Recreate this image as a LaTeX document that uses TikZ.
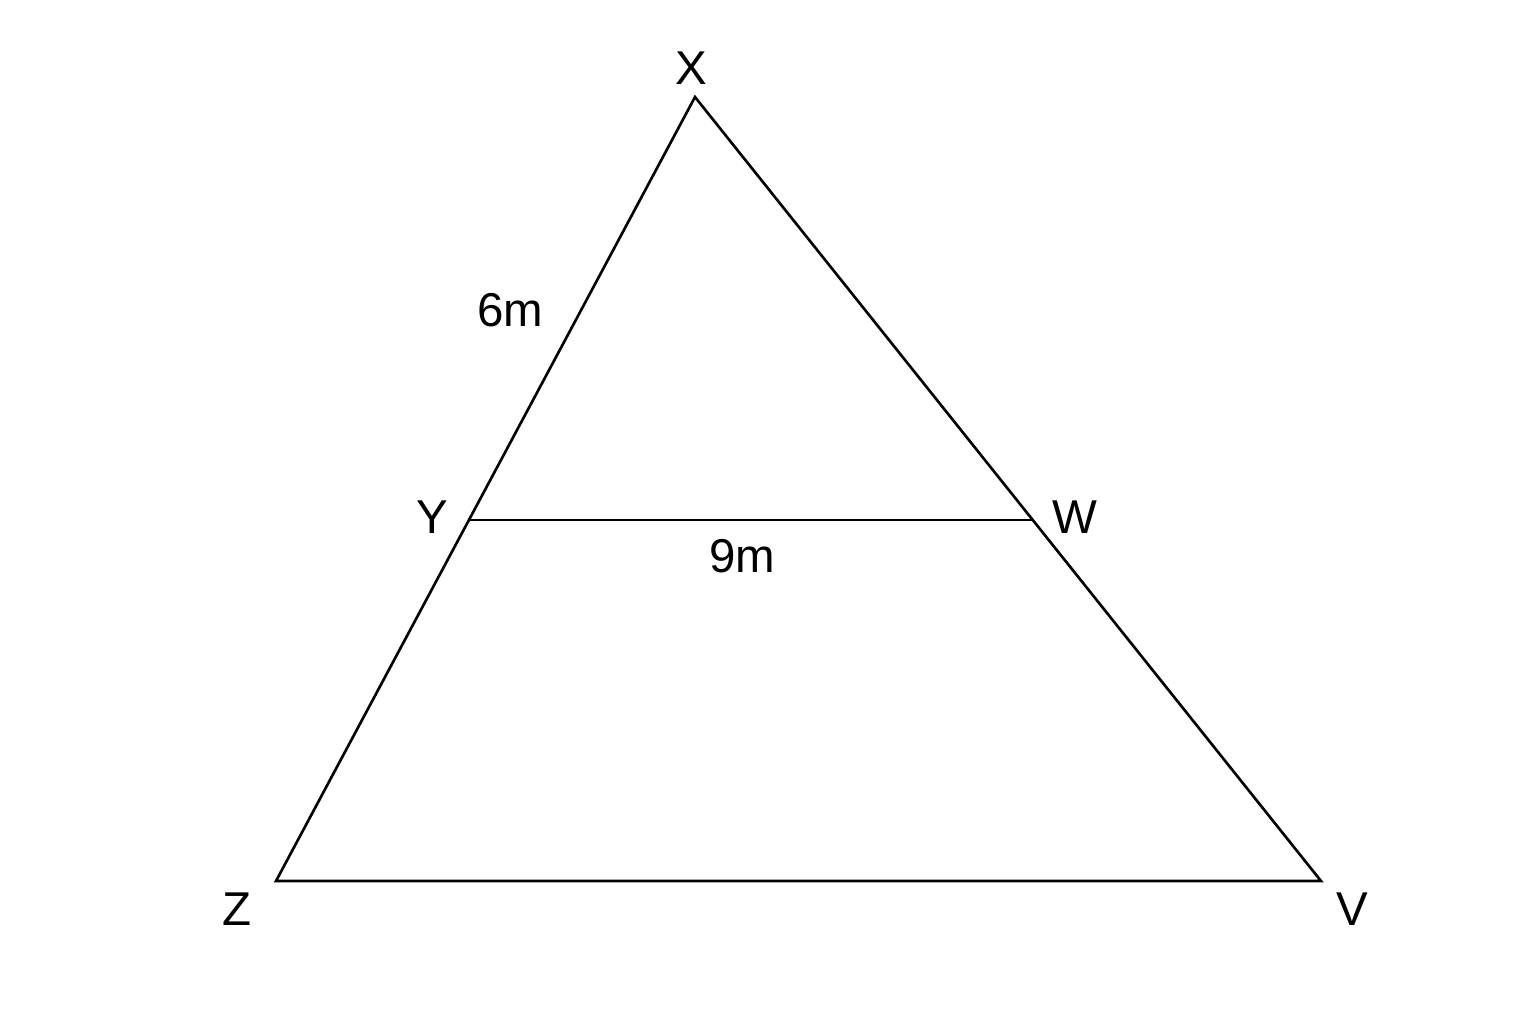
\documentclass[tikz,border=0pt]{standalone}
\usepackage{fontspec}
\setmainfont{Liberation Sans}
\begin{document}
\begin{tikzpicture}[x=0.01cm,y=-0.01cm,
  edge/.style={draw=black,line width=0.75pt,line join=miter},
  lbl/.style={font=\fontsize{13.5}{16}\selectfont,inner sep=0pt,anchor=center}]
\useasboundingbox (0,0) rectangle (1536,1024);
\coordinate (X) at (695,97);
\coordinate (Y) at (469,520);
\coordinate (W) at (1033,520);
\coordinate (Z) at (276,881);
\coordinate (V) at (1321,881);
\draw[edge] (X) -- (Z) -- (V) -- cycle;
\draw[edge] (Y) -- (W);
\node[lbl] (lX) at (691,68) {X};
\node[lbl] (lY) at (432,517) {Y};
\node[lbl] (lW) at (1075,517) {W};
\node[lbl] (lZ) at (237,909) {Z};
\node[lbl] (lV) at (1352,909) {V};
\node[lbl] (l6) at (510,310) {6m};
\node[lbl] (l9) at (742,556) {9m};
\end{tikzpicture}
\end{document}
